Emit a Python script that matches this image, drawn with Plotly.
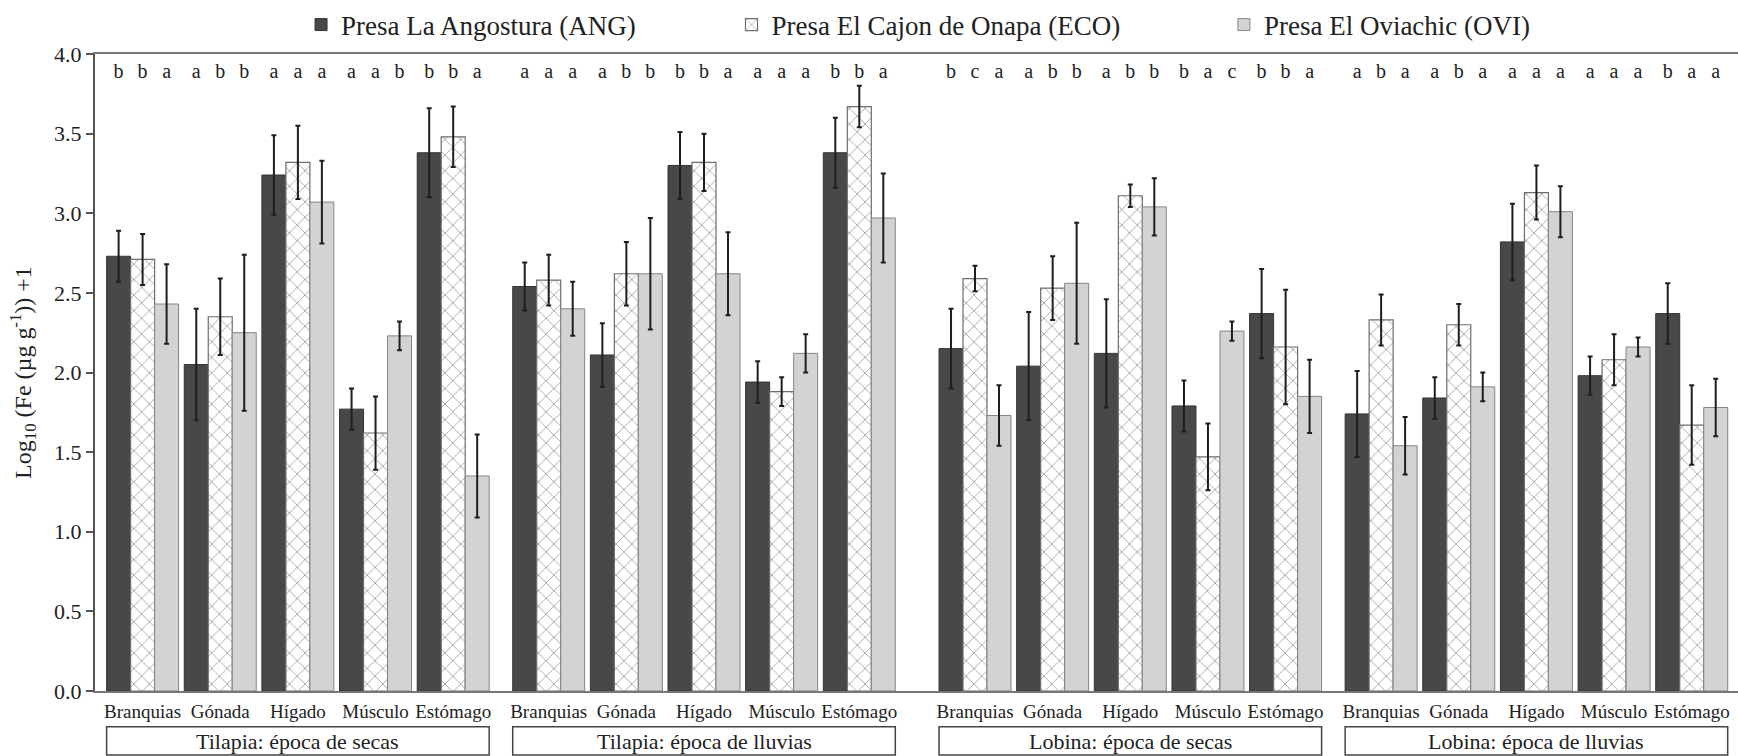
import plotly.graph_objects as go

# ---- data -------------------------------------------------------------
organs = ["Branquias", "Gónada", "Hígado", "Músculo", "Estómago"]
groups = [
    "Tilapia: época de secas",
    "Tilapia: época de lluvias",
    "Lobina: época de secas",
    "Lobina: época de lluvias",
]
sites = [
    "Presa La Angostura (ANG)",
    "Presa El Cajon de Onapa (ECO)",
    "Presa El Oviachic (OVI)",
]

# mean log10(Fe)+1 and error, ordered group by group, organ by organ
ang_mean = [2.73, 2.05, 3.24, 1.77, 3.38,
            2.54, 2.11, 3.30, 1.94, 3.38,
            2.15, 2.04, 2.12, 1.79, 2.37,
            1.74, 1.84, 2.82, 1.98, 2.37]
ang_err = [0.16, 0.35, 0.25, 0.13, 0.28,
           0.15, 0.20, 0.21, 0.13, 0.22,
           0.25, 0.34, 0.34, 0.16, 0.28,
           0.27, 0.13, 0.24, 0.12, 0.19]
eco_mean = [2.71, 2.35, 3.32, 1.62, 3.48,
            2.58, 2.62, 3.32, 1.88, 3.67,
            2.59, 2.53, 3.11, 1.47, 2.16,
            2.33, 2.30, 3.13, 2.08, 1.67]
eco_err = [0.16, 0.24, 0.23, 0.23, 0.19,
           0.16, 0.20, 0.18, 0.09, 0.13,
           0.08, 0.20, 0.07, 0.21, 0.36,
           0.16, 0.13, 0.17, 0.16, 0.25]
ovi_mean = [2.43, 2.25, 3.07, 2.23, 1.35,
            2.40, 2.62, 2.62, 2.12, 2.97,
            1.73, 2.56, 3.04, 2.26, 1.85,
            1.54, 1.91, 3.01, 2.16, 1.78]
ovi_err = [0.25, 0.49, 0.26, 0.09, 0.26,
           0.17, 0.35, 0.26, 0.12, 0.28,
           0.19, 0.38, 0.18, 0.06, 0.23,
           0.18, 0.09, 0.16, 0.06, 0.18]

# significance letters above each bar
ang_letters = ["b", "a", "a", "a", "b", "a", "a", "b", "a", "b",
               "b", "a", "a", "b", "b", "a", "a", "a", "a", "b"]
eco_letters = ["b", "b", "a", "a", "b", "a", "b", "b", "a", "b",
               "c", "b", "b", "a", "b", "b", "b", "a", "a", "a"]
ovi_letters = ["a", "b", "a", "b", "a", "a", "b", "a", "a", "a",
               "a", "b", "b", "c", "a", "a", "a", "a", "a", "a"]

# ---- layout helpers ---------------------------------------------------
FONT = "Liberation Serif"
TXT = "#222222"
season_gap = 0.23   # extra space between seasons
species_gap = 0.49  # extra space between species
bargap = 0.073

group_starts = []
pos = 0.0
for g in range(len(groups)):
    group_starts.append(pos)
    pos += len(organs) + (species_gap if g == 1 else season_gap)

x = [s + i for s in group_starts for i in range(len(organs))]
bar_w = (1 - bargap) / 3
half_group = (1 - bargap) / 2

fig = go.Figure()

err_style = dict(type="data", color="#1e1e1e", thickness=2, width=2.5)

fig.add_trace(go.Bar(
    x=x, y=ang_mean, name=sites[0], legend="legend",
    marker=dict(color="#48484a", line=dict(color="#333333", width=1)),
    error_y=dict(array=ang_err, **err_style),
))
fig.add_trace(go.Bar(
    x=x, y=eco_mean, name=sites[1], legend="legend2",
    marker=dict(color="white", line=dict(color="#6e6e6e", width=1.2),
                pattern=dict(shape="x", size=11, solidity=0.16,
                             fgcolor="#4a4a4a", bgcolor="white")),
    error_y=dict(array=eco_err, **err_style),
))
fig.add_trace(go.Bar(
    x=x, y=ovi_mean, name=sites[2], legend="legend3",
    marker=dict(color="#d2d3d5", line=dict(color="#858585", width=1)),
    error_y=dict(array=ovi_err, **err_style),
))

# letters over the bars
for k, letters in enumerate([ang_letters, eco_letters, ovi_letters]):
    fig.add_trace(go.Scatter(
        x=[v + (k - 1) * bar_w for v in x], y=[3.88] * len(x),
        mode="text", text=letters, showlegend=False, hoverinfo="skip",
        textfont=dict(family=FONT, size=20, color=TXT), cliponaxis=False,
    ))

# boxed group labels under the organ names
for s, label in zip(group_starts, groups):
    fig.add_shape(type="rect", xref="x", yref="paper",
                  x0=s - half_group, x1=s + len(organs) - 1 + half_group,
                  y0=-0.1005, y1=-0.056,
                  line=dict(color="#444444", width=1.5), fillcolor="white")
    fig.add_annotation(x=s + (len(organs) - 1) / 2, y=-0.0785,
                       xref="x", yref="paper", text=label, showarrow=False,
                       font=dict(family=FONT, size=22, color=TXT),
                       xanchor="center", yanchor="middle")

legend_common = dict(orientation="h", yanchor="middle", y=1.0455,
                     xanchor="left", bgcolor="rgba(0,0,0,0)",
                     font=dict(family=FONT, size=27, color=TXT))

fig.update_layout(
    width=1738, height=756,
    margin=dict(l=95, r=0, t=54, b=65),
    paper_bgcolor="white", plot_bgcolor="white",
    barmode="group", bargap=bargap, bargroupgap=0,
    font=dict(family=FONT, color=TXT),
    legend=dict(x=0.1254, **legend_common),
    legend2=dict(x=0.3874, **legend_common),
    legend3=dict(x=0.6871, **legend_common),
    xaxis=dict(
        range=[-0.613, 20.546], tickvals=x, ticktext=organs * len(groups),
        showgrid=False, zeroline=False, showline=True, mirror=True,
        linecolor="#777777", linewidth=2,
        ticks="outside", ticklen=2, tickcolor="rgba(0,0,0,0)",
        tickfont=dict(family=FONT, size=19, color=TXT),
    ),
    yaxis=dict(
        range=[0, 4], tickvals=[0, 0.5, 1, 1.5, 2, 2.5, 3, 3.5, 4],
        tickformat=".1f", showgrid=False, zeroline=False,
        showline=True, linecolor="#555555", linewidth=2,
        ticks="outside", ticklen=7, tickwidth=2, tickcolor="#555555",
        tickfont=dict(family=FONT, size=22, color=TXT),
        title=dict(text="Log<sub>10</sub> (Fe (µg g<sup>-1</sup>)) +1",
                   font=dict(family=FONT, size=24, color=TXT), standoff=16),
    ),
)

fig.write_html("out.html")
